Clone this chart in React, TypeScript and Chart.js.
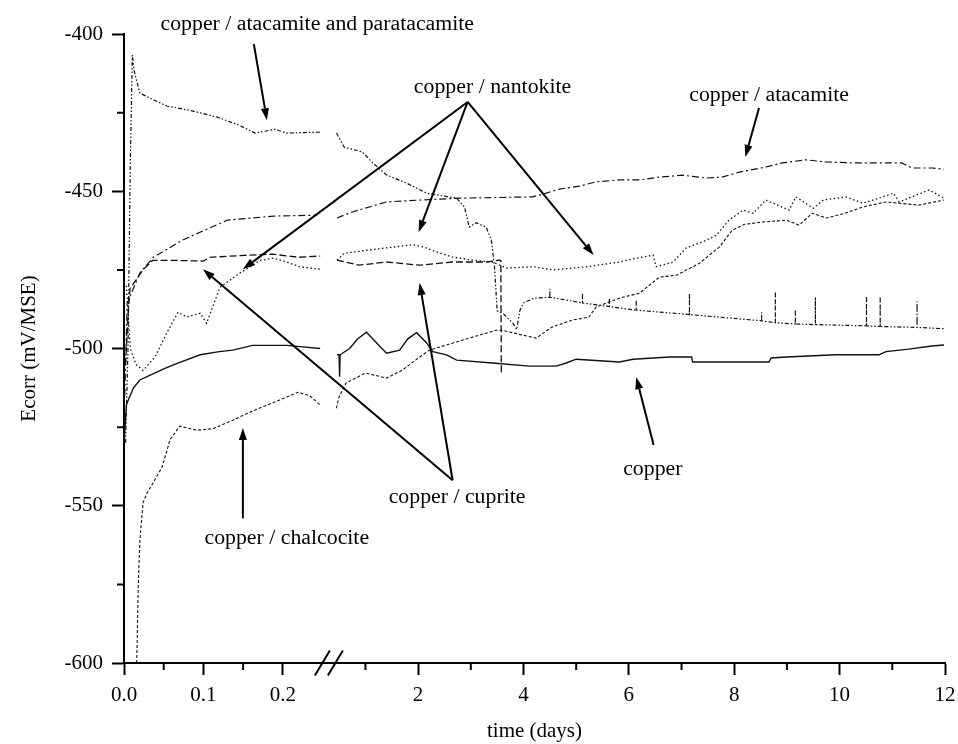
import { useEffect, useRef } from "react";
import { Chart, registerables, LinearScale } from "chart.js";

Chart.register(...registerables);

// ---------------- data (time in days, Ecorr in mV/MSE) ----------------
const copperLeft: [number, number][] = [
  [0, -530], [0.003, -518], [0.006, -516], [0.012, -512.5], [0.02, -510], [0.033, -508.5],
  [0.05, -506.5], [0.067, -504.7], [0.096, -502], [0.12, -501], [0.137, -500.5],
  [0.162, -499], [0.205, -499], [0.225, -499.5], [0.247, -500],
];
const copperRight: [number, number][] = [
  [0.46, -502], [0.5, -502], [0.51, -509], [0.52, -502], [0.7, -500], [0.85, -497],
  [1.02, -494.8], [1.2, -498], [1.4, -501.5], [1.65, -500.5], [1.8, -497], [1.97, -495],
  [2.15, -498], [2.28, -501], [2.54, -502], [2.73, -503.7], [3.41, -504.6], [4.11, -505.6],
  [4.62, -505.6], [4.81, -504.6], [5.0, -503.4], [5.82, -504.3], [6.08, -503.4],
  [6.77, -502.7], [7.19, -502.7], [7.21, -504.3], [8.66, -504.3], [8.7, -503],
  [8.99, -502.7], [9.93, -502], [10.75, -502], [10.88, -501], [11.31, -500.2],
  [11.75, -499.2], [11.98, -498.9],
];

const chalcociteLeft: [number, number][] = [
  [0.016, -600], [0.018, -575], [0.02, -561], [0.024, -549], [0.029, -546], [0.036, -543],
  [0.048, -537.7], [0.058, -529], [0.07, -524.7], [0.092, -526], [0.112, -525.5],
  [0.137, -522.8], [0.158, -520.3], [0.18, -518], [0.196, -516.4], [0.219, -513.9],
  [0.234, -515], [0.247, -518],
];
const chalcociteRight: [number, number][] = [
  [0.45, -519], [0.49, -515.8], [0.63, -511], [1.0, -507.8], [1.4, -509.4], [1.7, -506.9],
  [2.03, -502.7], [2.22, -500.5], [2.65, -498.3], [2.97, -496.7], [3.48, -494.2],
  [3.6, -494.2], [3.92, -495.5], [4.24, -496.7], [4.54, -493.2], [4.92, -491], [5.24, -490],
  [5.38, -486.8], [5.82, -484], [6.2, -482.4], [6.58, -477.3], [6.9, -476.7], [7.34, -472.9],
  [7.72, -467.7], [7.96, -462.4], [8.2, -460.5], [8.53, -459.8], [8.99, -459.2],
  [9.23, -460.8], [9.48, -457], [9.75, -458.5], [10.1, -457], [10.44, -455], [10.88, -453.4],
  [11.5, -454.4], [11.98, -452.8],
];

const cupriteLeft: [number, number][] = [
  [0.002, -505], [0.005, -490], [0.0075, -481], [0.024, -475], [0.036, -472], [0.065, -472],
  [0.1, -472.2], [0.108, -471], [0.158, -470.3], [0.187, -470], [0.22, -471], [0.247, -470.6],
];
const cupriteRight: [number, number][] = [
  [0.46, -471.9], [0.88, -473.5], [1.4, -472.5], [2.03, -473.5], [2.65, -472.5],
  [3.3, -472.5], [3.55, -471.9], [3.57, -472], [3.58, -508],
];

const nantokiteLeft: [number, number][] = [
  [0.003, -480], [0.008, -500], [0.015, -505], [0.024, -507], [0.039, -502.7], [0.054, -495],
  [0.068, -488.5], [0.079, -490], [0.096, -488.8], [0.104, -492], [0.121, -480.5],
  [0.146, -476], [0.159, -474], [0.171, -472], [0.188, -471.3], [0.205, -472.5],
  [0.221, -474], [0.247, -474.8],
];
const nantokiteRight: [number, number][] = [
  [0.46, -471.9], [0.6, -469.7], [1.4, -468], [1.9, -467], [2.1, -467.7], [2.35, -469.3],
  [2.65, -470.9], [3.03, -471.9], [3.41, -472.5], [3.68, -474.4], [4.18, -474], [4.56, -475],
  [5.2, -474], [5.82, -472.5], [6.14, -471.3], [6.46, -470.3], [6.52, -474], [6.84, -472.5],
  [7.09, -468], [7.41, -466], [7.66, -464], [7.9, -459.2], [8.17, -456], [8.36, -457],
  [8.6, -452.8], [9.04, -456], [9.17, -451.8], [9.5, -455.4], [9.69, -452.8], [10.12, -451.8],
  [10.44, -453.8], [10.75, -452.2], [11.02, -450.6], [11.13, -453.4], [11.7, -449.6],
  [11.98, -452.2],
];

const atacamiteLeft: [number, number][] = [
  [0.001, -515], [0.004, -485.6], [0.02, -476], [0.037, -471], [0.074, -465.5],
  [0.13, -459.2], [0.188, -457.9], [0.243, -457.6],
];
const atacamiteRight: [number, number][] = [
  [0.46, -458.5], [0.75, -456.6], [1.4, -453.4], [2.03, -452.8], [2.78, -452.2],
  [4.17, -451.8], [4.43, -450.6], [4.68, -449.3], [5.06, -448.4], [5.38, -447],
  [5.82, -446.4], [6.2, -446.4], [6.58, -445.5], [7.02, -444.9], [7.47, -445.8],
  [7.77, -445.5], [8.1, -443.9], [8.6, -442.3], [8.91, -441], [9.36, -440], [9.74, -440.7],
  [10.31, -441], [10.75, -441], [11.18, -441], [11.37, -442.6], [11.75, -442.6], [11.98, -443],
];

const atacParaLeft: [number, number][] = [
  [0.002, -530], [0.005, -500], [0.008, -440], [0.0105, -406.7], [0.013, -412], [0.02, -418.8],
  [0.033, -420.4], [0.054, -422.9], [0.087, -424.5], [0.117, -426.4], [0.145, -429],
  [0.165, -431.5], [0.19, -430.3], [0.205, -431.5], [0.247, -431.2],
];
const atacParaRight: [number, number][] = [
  [0.45, -431.5], [0.6, -436], [0.94, -437.5], [1.14, -441], [1.4, -444.8], [1.78, -447.4],
  [2.16, -450.6], [2.73, -452.2], [2.88, -455], [2.97, -461.4], [3.1, -460], [3.29, -461.4],
  [3.39, -465.5], [3.45, -474], [3.5, -488], [3.62, -489], [3.8, -492], [3.87, -494],
  [3.93, -488], [4.0, -485.5], [4.2, -484],
  [4.5, -483.7], [4.5, -481], [4.5, -483.7],
  [5.12, -485.5], [5.12, -482.5], [5.12, -485.5],
  [5.63, -486.7], [5.63, -484], [5.63, -486.7],
  [6.14, -487.8], [6.14, -484.6], [6.14, -487.8],
  [7.15, -489.2], [7.15, -482.4], [7.15, -489.2],
  [8.52, -491.2], [8.52, -488.5], [8.52, -491.2],
  [8.78, -491.8], [8.78, -482], [8.78, -491.8],
  [9.16, -492.2], [9.16, -487.8], [9.16, -492.2],
  [9.54, -492.4], [9.54, -483.7], [9.54, -492.4],
  [10.51, -492.8], [10.51, -483.5], [10.51, -492.8],
  [10.77, -493], [10.77, -483.7], [10.77, -493],
  [11.47, -493.3], [11.47, -485], [11.47, -493.3],
  [11.98, -493.7],
];

// ticks
const xMajorTicks = [0, 0.1, 0.2, 2, 4, 6, 8, 10, 12];
const xMinorTicks = [0.05, 0.15, 1, 3, 5, 7, 9, 11];
const yMinorTicks = [-425, -475, -525, -575];
const BREAK_AT = 0.258;

// annotations (data coordinates)
const labelTexts = [
  "copper / atacamite and paratacamite",
  "copper / nantokite",
  "copper / atacamite",
  "copper / cuprite",
  "copper / chalcocite",
  "copper",
];
const labelAnchors: [number, number][] = [
  [0.2434, -398.7], [3.413, -418.8], [8.662, -421.3], [2.739, -549.2], [0.205, -562.2], [6.455, -540.3],
];
const arrowLines: [number, number, number, number][] = [
  [0.1635, -403.2, 0.18, -427.4],
  [2.94, -421.6, 0.1497, -474.8],
  [2.94, -421.6, 2.01, -463],
  [2.94, -421.6, 5.33, -470.3],
  [8.47, -423.5, 8.21, -439.1],
  [2.655, -541.9, 0.0994, -474.8],
  [2.655, -541.9, 2.03, -479.2],
  [0.1497, -554, 0.1497, -525.3],
  [6.47, -530.7, 6.14, -509.1],
];

// ---------------- broken time axis ----------------
const LEFT_SCALE = 795; // axis units per day, first segment
const RIGHT_ORIGIN = 241.7; // axis units at day 1
const RIGHT_SCALE = 52.75; // axis units per day, second segment
const U_MAX = RIGHT_ORIGIN + 11 * RIGHT_SCALE;
const toU = (t: number) => (t <= 0.35 ? t * LEFT_SCALE : RIGHT_ORIGIN + (t - 1) * RIGHT_SCALE);
const fromU = (u: number) => (u <= 210 ? u / LEFT_SCALE : 1 + (u - RIGHT_ORIGIN) / RIGHT_SCALE);

class BrokenTimeScale extends LinearScale {
  static id = "brokenTime";
  static defaults = {};
  determineDataLimits() {
    (this as any).min = 0;
    (this as any).max = 12;
  }
  buildTicks() {
    return xMajorTicks.map((v) => ({ value: v }));
  }
  getPixelForValue(value: number) {
    return this.getPixelForDecimal(toU(value) / U_MAX);
  }
  getValueForPixel(pixel: number) {
    return fromU(this.getDecimalForPixel(pixel) * U_MAX);
  }
}
Chart.register(BrokenTimeScale as any);

const FONT = '"Liberation Serif", "Times New Roman", serif';

const toPoints = (left: [number, number][], right: [number, number][]) => [
  ...left.map(([x, y]) => ({ x, y })),
  { x: 0.35, y: null as any },
  ...right.map(([x, y]) => ({ x, y })),
];

const extrasPlugin = {
  id: "extras",
  afterDatasetsDraw(chart: any) {
    const { ctx, scales } = chart;
    const xs = scales.x;
    const ys = scales.y;
    const px = (t: number) => xs.getPixelForValue(t);
    const py = (e: number) => ys.getPixelForValue(e);
    ctx.save();
    ctx.strokeStyle = "#000";
    ctx.fillStyle = "#000";
    ctx.lineWidth = 2;
    ctx.setLineDash([]);
    for (const [t1, e1, t2, e2] of arrowLines) {
      const x1 = px(t1), y1 = py(e1), x2 = px(t2), y2 = py(e2);
      const ang = Math.atan2(y2 - y1, x2 - x1);
      const len = 12, hw = 4;
      const bx = x2 - len * Math.cos(ang), by = y2 - len * Math.sin(ang);
      ctx.beginPath();
      ctx.moveTo(x1, y1);
      ctx.lineTo(bx, by);
      ctx.stroke();
      ctx.beginPath();
      ctx.moveTo(x2, y2);
      ctx.lineTo(bx + hw * Math.sin(ang), by - hw * Math.cos(ang));
      ctx.lineTo(bx - hw * Math.sin(ang), by + hw * Math.cos(ang));
      ctx.closePath();
      ctx.fill();
    }
    ctx.font = "20px " + FONT;
    ctx.textAlign = "center";
    ctx.textBaseline = "alphabetic";
    labelTexts.forEach((txt, i) => {
      const [t, e] = labelAnchors[i];
      ctx.save();
      ctx.translate(px(t), py(e));
      ctx.scale(1.09, 1);
      ctx.fillText(txt, 0, 0);
      ctx.restore();
    });
    ctx.restore();
  },
  afterDraw(chart: any) {
    const { ctx, scales, chartArea } = chart;
    const xs = scales.x;
    const ys = scales.y;
    ctx.save();
    ctx.strokeStyle = "#000";
    ctx.lineWidth = 2;
    ctx.setLineDash([]);
    ctx.beginPath();
    for (const t of xMinorTicks) {
      const x = xs.getPixelForValue(t);
      ctx.moveTo(x, chartArea.bottom);
      ctx.lineTo(x, chartArea.bottom + 7);
    }
    for (const e of yMinorTicks) {
      const y = ys.getPixelForValue(e);
      ctx.moveTo(chartArea.left - 7, y);
      ctx.lineTo(chartArea.left, y);
    }
    ctx.stroke();
    // axis break mark
    const bx = xs.getPixelForValue(BREAK_AT);
    const by = chartArea.bottom;
    ctx.beginPath();
    for (const d of [-6.5, 6.5]) {
      ctx.moveTo(bx + d - 7.5, by + 12.5);
      ctx.lineTo(bx + d + 7.5, by - 12.5);
    }
    ctx.stroke();
    ctx.restore();
  },
};

export default function App() {
  const ref = useRef<HTMLCanvasElement | null>(null);
  useEffect(() => {
    const line = (data: any[], dash: number[], width: number) => ({
      data,
      borderColor: "#111",
      borderWidth: width,
      borderDash: dash,
      pointRadius: 0,
      tension: 0,
      fill: false,
      spanGaps: false,
    });
    const chart = new Chart(ref.current as HTMLCanvasElement, {
      type: "line",
      data: {
        datasets: [
          { label: "copper", ...line(toPoints(copperLeft, copperRight), [], 1.4) },
          { label: "copper / chalcocite", ...line(toPoints(chalcociteLeft, chalcociteRight), [3, 2], 1.1) },
          { label: "copper / cuprite", ...line(toPoints(cupriteLeft, cupriteRight), [7, 3], 1.3) },
          { label: "copper / nantokite", ...line(toPoints(nantokiteLeft, nantokiteRight), [1.5, 2.5], 1.3) },
          { label: "copper / atacamite", ...line(toPoints(atacamiteLeft, atacamiteRight), [7, 3, 2, 3], 1.2) },
          { label: "copper / atacamite and paratacamite", ...line(toPoints(atacParaLeft, atacParaRight), [4, 2, 1.5, 2, 1.5, 2], 1.2) },
        ] as any,
      },
      options: {
        animation: false,
        responsive: false,
        devicePixelRatio: 1,
        events: [],
        layout: { padding: { left: 0, right: 13, top: 34, bottom: 0 } },
        plugins: { legend: { display: false }, tooltip: { enabled: false } },
        scales: {
          x: {
            type: "brokenTime" as any,
            position: "bottom",
            afterFit: (s: any) => {
              s.height = 81;
              s.paddingLeft = 0;
              s.paddingRight = 0;
            },
            grid: { drawOnChartArea: false, drawTicks: true, tickLength: 12, tickWidth: 2, color: "#000" },
            border: { display: true, color: "#000", width: 2 },
            ticks: {
              autoSkip: false,
              maxRotation: 0,
              padding: 8,
              color: "#000",
              font: { family: FONT, size: 21 },
              callback: (v: any) => (Number(v) < 1 ? Number(v).toFixed(1) : String(v)),
            },
            title: {
              display: true,
              text: "time (days)",
              color: "#000",
              font: { family: FONT, size: 21 },
              padding: { top: 0, bottom: 0 },
            },
          } as any,
          y: {
            type: "linear",
            min: -600,
            max: -400,
            afterFit: (s: any) => {
              s.width = 124;
              s.paddingTop = 0;
              s.paddingBottom = 0;
            },
            grid: { drawOnChartArea: false, drawTicks: true, tickLength: 12, tickWidth: 2, color: "#000" },
            border: { display: true, color: "#000", width: 2 },
            ticks: {
              stepSize: 50,
              padding: 9,
              color: "#000",
              font: { family: FONT, size: 21 },
            },
            title: {
              display: true,
              text: "Ecorr (mV/MSE)",
              color: "#000",
              font: { family: FONT, size: 21 },
              padding: { top: 17, bottom: 0 },
            },
          },
        },
      },
      plugins: [extrasPlugin],
    });
    return () => chart.destroy();
  }, []);
  return (
    <div style={{ position: "absolute", left: 0, top: 0, width: 958, height: 744, background: "#fff" }}>
      <canvas ref={ref} width={958} height={744} style={{ display: "block", width: 958, height: 744 }} />
    </div>
  );
}
